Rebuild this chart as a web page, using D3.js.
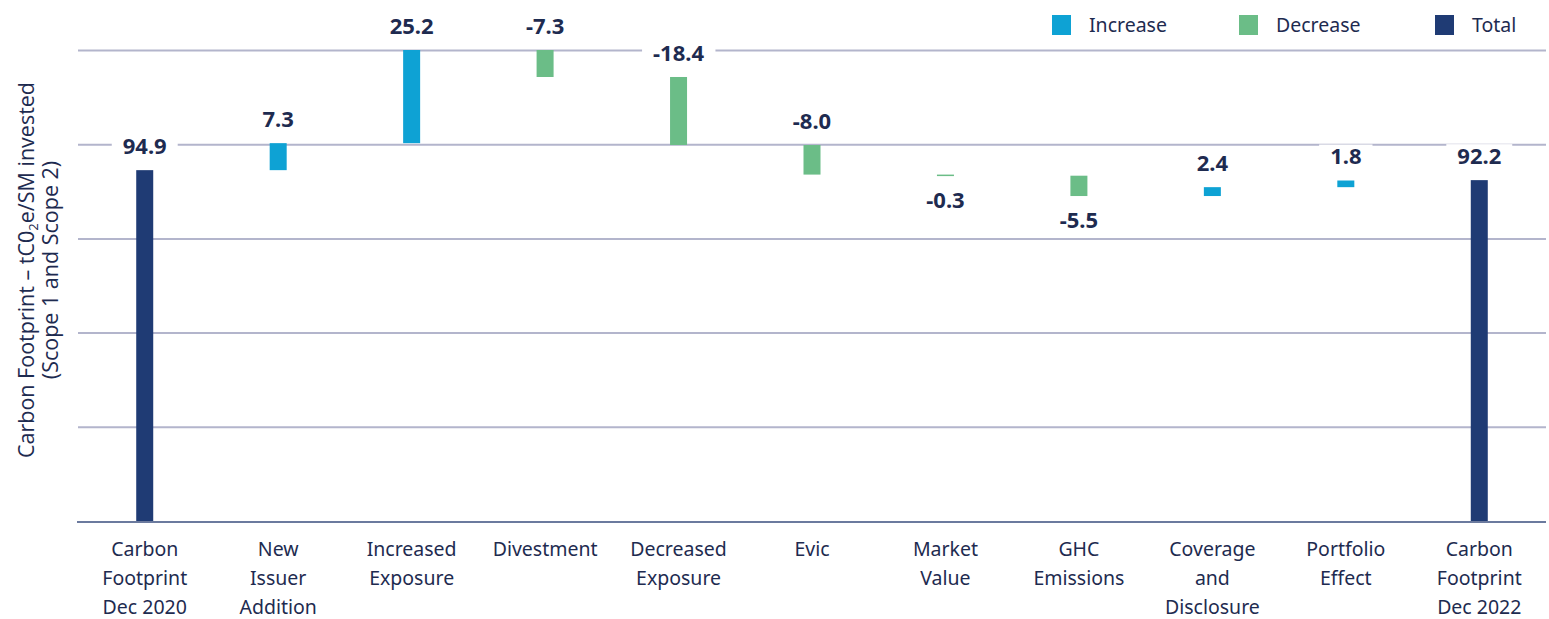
<!DOCTYPE html>
<html>
<head>
<meta charset="utf-8">
<script src="https://cdn.jsdelivr.net/npm/d3@7/dist/d3.min.js"></script>
<style>
  html, body { margin: 0; padding: 0; background: #fff; }
  svg { display: block; }
  text { font-family: "Noto Sans", sans-serif; }
</style>
</head>
<body>
<div id="chart"></div>
<script>
// Data
const categories = [
  'Carbon Footprint Dec 2020', 'New Issuer Addition', 'Increased Exposure', 'Divestment',
  'Decreased Exposure', 'Evic', 'Market Value', 'GHC Emissions',
  'Coverage and Disclosure', 'Portfolio Effect', 'Carbon Footprint Dec 2022',
];
const categoryLines = [
  ['Carbon', 'Footprint', 'Dec 2020'], ['New', 'Issuer', 'Addition'], ['Increased', 'Exposure'],
  ['Divestment'], ['Decreased', 'Exposure'], ['Evic'], ['Market', 'Value'], ['GHC', 'Emissions'],
  ['Coverage', 'and', 'Disclosure'], ['Portfolio', 'Effect'], ['Carbon', 'Footprint', 'Dec 2022'],
];
const changes = [94.9, 7.3, 25.2, -7.3, -18.4, -8.0, -0.3, -5.5, 2.4, 1.8, 92.2];
const isTotal = [true, false, false, false, false, false, false, false, false, false, true];
const labelsBelow = ['Market Value', 'GHC Emissions'];
const legendItems = ['Increase', 'Decrease', 'Total'];

const colors = { Increase: '#0ea2d4', Decrease: '#6bbd87', Total: '#1f3b74' };
const textColor = '#1e2b50';

// build waterfall steps
let running = 0;
const steps = categories.map((c, i) => {
  let start, end, kind;
  if (isTotal[i]) {
    start = 0; end = changes[i]; kind = 'Total';
    running = changes[i];
  } else {
    start = running; end = running + changes[i];
    kind = changes[i] >= 0 ? 'Increase' : 'Decrease';
    running = end;
  }
  return { name: c, lines: categoryLines[i], value: changes[i], start, end, kind };
});

const width = 1549;
const height = 619;
const margin = { top: 50, right: 3, bottom: 98, left: 78 };
const innerW = width - margin.left - margin.right;
const innerH = height - margin.top - margin.bottom;

const maxY = d3.max(steps, d => Math.max(d.start, d.end));

const x = d3.scaleBand()
  .domain(categories)
  .range([0, innerW]);

const y = d3.scaleLinear()
  .domain([0, maxY])
  .range([innerH, 0]);

const barW = 17;

const svg = d3.select('#chart')
  .append('svg')
  .attr('width', width)
  .attr('height', height);

const g = svg.append('g')
  .attr('transform', `translate(${margin.left}, ${margin.top})`);

// gridlines: top of chart split in 5
const gridG = g.append('g').call(
  d3.axisLeft(y)
    .tickValues(d3.range(1, 6).map(i => maxY * i / 5))
    .tickSize(-innerW)
    .tickFormat('')
);
gridG.select('.domain').remove();
gridG.selectAll('line').attr('stroke', '#b3b5cc').attr('stroke-width', 2);

// baseline + x labels
const xG = g.append('g')
  .attr('transform', `translate(0, ${innerH})`)
  .call(d3.axisBottom(x).tickSize(0).tickFormat(''));
xG.select('.domain').attr('stroke', '#6b7a9e').attr('stroke-width', 2)
  .attr('d', `M-1,1H${innerW}`);

xG.selectAll('.tick').each(function (d, i) {
  const t = d3.select(this).append('text')
    .attr('fill', textColor)
    .attr('text-anchor', 'middle')
    .style('font-size', '19.5px');
  steps[i].lines.forEach((line, j) => {
    t.append('tspan').attr('x', 0).attr('y', 35 + j * 29).text(line);
  });
});

// bars
g.selectAll('rect.bar')
  .data(steps)
  .enter()
  .append('rect')
  .attr('class', 'bar')
  .attr('x', d => x(d.name) + x.bandwidth() / 2 - barW / 2)
  .attr('width', barW)
  .attr('y', d => y(Math.max(d.start, d.end)))
  .attr('height', d => Math.max(1.5, Math.abs(y(d.start) - y(d.end))))
  .attr('fill', d => colors[d.kind]);

// value labels with white knock-out box
const labelG = g.selectAll('g.val')
  .data(steps)
  .enter()
  .append('g')
  .attr('class', 'val')
  .attr('transform', d => {
    const cx = x(d.name) + x.bandwidth() / 2;
    const below = labelsBelow.includes(d.name);
    const cy = below ? y(Math.min(d.start, d.end)) + 24 : y(Math.max(d.start, d.end)) - 24;
    return `translate(${cx}, ${cy})`;
  });

labelG.each(function (d) {
  const el = d3.select(this);
  const txt = el.append('text')
    .attr('text-anchor', 'middle')
    .attr('dy', '0.36em')
    .attr('fill', textColor)
    .style('font-size', '22px')
    .style('font-weight', '700')
    .text(d.value.toFixed(1));
  const bb = txt.node().getBBox();
  el.insert('rect', 'text')
    .attr('x', bb.x - 11)
    .attr('y', -12)
    .attr('width', bb.width + 22)
    .attr('height', 24)
    .attr('fill', '#fff');
});

// y-axis title
const yTitle = svg.append('text')
  .attr('transform', `translate(34, ${margin.top + 220}) rotate(-90)`)
  .attr('text-anchor', 'middle')
  .attr('fill', textColor)
  .style('font-family', '"Open Sans", sans-serif')
  .style('font-size', '21.5px');
const l1 = yTitle.append('tspan').attr('x', 0).attr('y', 0);
l1.append('tspan').text('Carbon Footprint \u2013 tC0');
l1.append('tspan').attr('font-size', '13px').attr('dy', 4).text('2');
l1.append('tspan').attr('dy', -4).text('e/SM invested');
yTitle.append('tspan').attr('x', 0).attr('y', 24).text('(Scope 1 and Scope 2)');

// legend
const legendX = [1052, 1239, 1435];
const legend = svg.selectAll('g.legend')
  .data(legendItems)
  .enter()
  .append('g')
  .attr('class', 'legend')
  .attr('transform', (d, i) => `translate(${legendX[i]}, 15)`);
legend.append('rect')
  .attr('width', 19)
  .attr('height', 20)
  .attr('fill', d => colors[d]);
legend.append('text')
  .attr('x', 37)
  .attr('y', 10)
  .attr('dy', '0.36em')
  .attr('fill', textColor)
  .style('font-size', '19.5px')
  .text(d => d);
</script>
</body>
</html>
